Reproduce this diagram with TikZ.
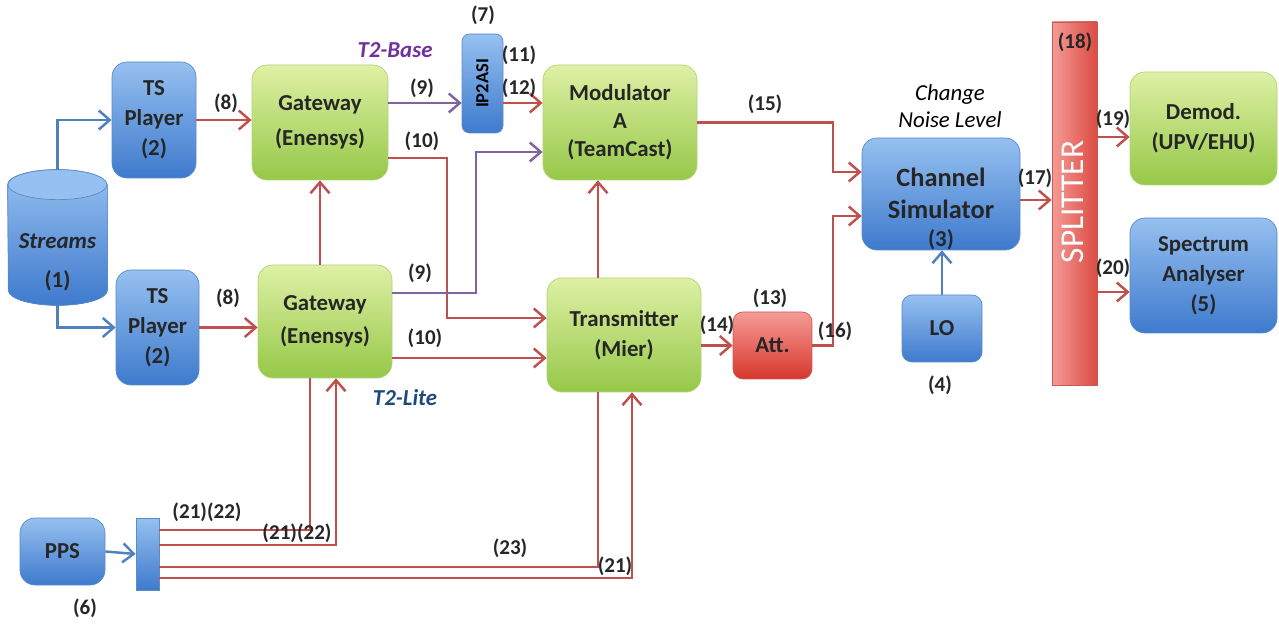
\documentclass[tikz,border=0pt]{standalone}
\usepackage{fontspec}
\setmainfont{Carlito}
\usetikzlibrary{arrows.meta,positioning,calc,shapes.geometric}
\definecolor{bluetop}{RGB}{150,192,240}
\definecolor{bluebot}{RGB}{62,122,205}
\definecolor{blueedge}{RGB}{90,140,200}
\definecolor{greentop}{RGB}{222,240,165}
\definecolor{greenbot}{RGB}{150,200,72}
\definecolor{greenedge}{RGB}{180,210,120}
\definecolor{redtop}{RGB}{245,155,150}
\definecolor{redbot}{RGB}{215,55,45}
\definecolor{rededge}{RGB}{200,90,90}
\definecolor{linered}{RGB}{192,80,77}
\definecolor{linepurple}{RGB}{128,100,162}
\definecolor{lineblue}{RGB}{79,129,189}
\definecolor{basecol}{RGB}{112,48,160}
\definecolor{litecol}{RGB}{31,73,125}

\begin{document}
\begin{tikzpicture}[
    box/.style={rounded corners=0.3cm, align=center, inner sep=1pt, text=black!85,
        font=\bfseries\fontsize{13}{17}\selectfont},
    bluebox/.style={box, draw=blueedge, top color=bluetop, bottom color=bluebot},
    greenbox/.style={box, draw=greenedge, top color=greentop, bottom color=greenbot},
    redbox/.style={box, draw=rededge, top color=redtop, bottom color=redbot},
    wire/.style={line width=1.4pt},
    sigl/.style={wire, draw=linered},
    sig/.style={sigl, -{Straight Barb[length=2.2mm,width=3.8mm]}},
    tsl/.style={wire, draw=linepurple, -{Straight Barb[length=2.2mm,width=3.8mm]}},
    ctl/.style={wire, draw=lineblue, -{Straight Barb[length=2.2mm,width=3.8mm]}},
    lbl/.style={font=\bfseries\fontsize{12}{14}\selectfont, text=black!85, inner sep=0pt},
    note/.style={font=\bfseries\itshape\fontsize{13}{15}\selectfont, inner sep=0pt}
]
\useasboundingbox (0,0) rectangle (25.58,12.64);

% sources
\node[minimum width=1.98cm, minimum height=2.7cm, inner sep=0pt] (streams) at (1.15,7.89) {};
\fill[top color=bluetop, bottom color=bluebot, draw=blueedge]
    ([yshift=-0.3cm]streams.north east) -- ([yshift=0.3cm]streams.south east)
    arc[start angle=0, end angle=-180, x radius=0.99cm, y radius=0.3cm]
    -- ([yshift=-0.3cm]streams.north west)
    arc[start angle=180, end angle=0, x radius=0.99cm, y radius=0.3cm] -- cycle;
\draw[draw=blueedge, fill=bluetop] ([yshift=-0.3cm]streams.north) ellipse (0.99cm and 0.3cm);
\node[box, font=\bfseries\fontsize{13}{22}\selectfont] (streamstxt) at (1.15,7.39) {\textit{Streams}\\(1)};
\node[bluebox, minimum width=1.68cm, minimum height=2.32cm] (ts1) at (3.08,10.24) {TS\\Player\\(2)};
\node[bluebox, minimum width=1.66cm, minimum height=2.3cm] (ts2) at (3.15,6.09) {TS\\Player\\(2)};
\node[bluebox, minimum width=1.7cm, minimum height=1.34cm] (pps) at (1.25,1.61) {PPS};
\node[draw=blueedge, top color=bluetop, bottom color=bluebot, minimum width=0.46cm,
    minimum height=1.44cm, inner sep=0pt] (bar) at (2.95,1.56) {};

% gateways and IP2ASI
\node[greenbox, minimum width=2.72cm, minimum height=2.3cm, font=\bfseries\fontsize{13}{20}\selectfont] (gw1) at (6.4,10.19) {Gateway\\(Enensys)};
\node[greenbox, minimum width=2.68cm, minimum height=2.26cm, font=\bfseries\fontsize{13}{19}\selectfont] (gw2) at (6.5,6.21) {Gateway\\(Enensys)};
\node[bluebox, rounded corners=0.15cm, minimum width=0.82cm, minimum height=1.98cm] (ip) at (9.65,10.97) {};
\node[font=\bfseries\fontsize{10.5}{12}\selectfont, rotate=90] (iptxt) at (ip.center) {IP2ASI};

% modulators
\node[greenbox, minimum width=3.08cm, minimum height=2.3cm, font=\bfseries\fontsize{13}{16}\selectfont] (mod) at (12.4,10.19) {Modulator\\A\\(TeamCast)};
\node[greenbox, minimum width=3.08cm, minimum height=2.28cm] (trans) at (12.48,5.94) {Transmitter\\(Mier)};
\node[redbox, rounded corners=0.2cm, minimum width=1.58cm, minimum height=1.34cm] (att) at (15.45,5.73) {Att.};

% channel and outputs
\node[bluebox, minimum width=3.16cm, minimum height=2.24cm] (chsim) at (18.82,8.76) {};
\node[align=center, text=black!85, font=\bfseries\fontsize{15}{18}\selectfont] (chsimtxt) at ([yshift=-0.3cm]chsim.center)
    {Channel\\Simulator\\[-2pt]{\fontsize{13}{15}\selectfont(3)}};
\node[bluebox, rounded corners=0.2cm, minimum width=1.6cm, minimum height=1.34cm] (lo) at (18.84,6.07) {LO};
\node[draw=rededge, left color=redtop, right color=redbot!90, minimum width=0.9cm,
    minimum height=7.26cm, inner sep=0pt] (split) at (21.49,8.57) {};
\node[rotate=90, text=white, font=\fontsize{19}{21}\selectfont] (splittxt) at (21.45,8.6) {SPLITTER};
\node[greenbox, minimum width=2.94cm, minimum height=2.26cm] (demod) at (24.07,10.07) {Demod.\\(UPV/EHU)};
\node[bluebox, minimum width=2.94cm, minimum height=2.3cm] (spec) at (24.07,7.13) {Spectrum\\Analyser\\(5)};

% connections
\draw[ctl] (streams.north) |- (ts1.west);
\draw[ctl] (streams.south) |- (ts2.west);
\draw[sig] (ts1.east) -- (ts1.east -| gw1.west);
\draw[sig] (ts2.east) -- (ts2.east -| gw2.west);
\draw[sig] (gw1.south |- gw2.north) -- (gw1.south);

\coordinate (b9) at ([yshift=0.39cm]gw1.east);
\draw[tsl] (b9) -- (b9 -| ip.west);
\draw[sig] (b9 -| ip.east) -- (b9 -| mod.west);
\coordinate (k10) at (8.94,6.28);
\draw[sig] ([yshift=-0.71cm]gw1.east) -| (k10) -- (k10 -| trans.west);
\coordinate (k9) at (9.52,9.6);
\draw[tsl] ([yshift=0.57cm]gw2.east) -| (k9) -- (k9 -| mod.west);
\coordinate (g10) at ([yshift=-0.73cm]gw2.east);
\draw[sig] (g10) -- (g10 -| trans.west);
\draw[sig] ([xshift=-0.52cm]trans.north) -- ([xshift=-0.52cm]trans.north |- mod.south);

\coordinate (k15) at (16.66,9.2);
\draw[sig] (mod.east) -| (k15) -- (k15 -| chsim.west);
\draw[sig] (att.west -| trans.east) -- (att.west);
\coordinate (k16) at (16.66,8.32);
\draw[sig] (att.east) -| (k16) -- (k16 -| chsim.west);
\draw[ctl] (lo.north) -- (lo.north |- chsim.south);
\coordinate (c17) at ([yshift=-0.12cm]chsim.east);
\draw[sig] (c17) -- (c17 -| split.west);
\coordinate (c19) at ([yshift=-0.17cm]demod.west);
\draw[sig] (c19 -| split.east) -- (c19);
\coordinate (c20) at ([yshift=-0.33cm]spec.west);
\draw[sig] (c20 -| split.east) -- (c20);

% PPS distribution
\draw[ctl] (pps.east) -- (bar.west);
\coordinate (p1) at (6.2,2.04);
\coordinate (p2) at (6.72,1.74);
\coordinate (p3) at (11.96,1.3);
\coordinate (p4) at (12.64,1.08);
\draw[sigl] (p1 -| bar.east) -- (p1) -- (p1 |- gw2.south);
\draw[sig] (p2 -| bar.east) -- (p2) -- (p2 |- gw2.south);
\draw[sigl] (p3 -| bar.east) -- (p3) -- (p3 |- trans.south);
\draw[sig] (p4 -| bar.east) -- (p4) -- (p4 |- trans.south);

% labels
\node[lbl] (l7) at (9.66,12.34) {(7)};
\node[note, text=basecol] (t2base) at (7.9,11.64) {T2-Base};
\node[lbl] (l11) at (10.38,11.54) {(11)};
\node[lbl] (l12) at (10.38,10.88) {(12)};
\node[lbl] (l8a) at (4.52,10.58) {(8)};
\node[lbl] (l9a) at (8.44,10.88) {(9)};
\node[lbl] (l10a) at (8.44,9.82) {(10)};
\node[lbl] (l15) at (15.3,10.56) {(15)};
\node[note, font=\itshape\fontsize{13}{15.5}\selectfont, align=center, text=black] (noise) at (19.0,10.52) {Change\\Noise Level};
\node[lbl] (l17) at (20.7,9.08) {(17)};
\node[lbl] (l18) at (21.5,11.8) {(18)};
\node[lbl] (l19) at (22.26,10.26) {(19)};
\node[lbl] (l20) at (22.26,7.28) {(20)};
\node[lbl] (l9b) at (8.4,7.18) {(9)};
\node[lbl] (l8b) at (4.56,6.68) {(8)};
\node[lbl] (l10b) at (8.5,5.88) {(10)};
\node[lbl] (l13) at (15.4,6.68) {(13)};
\node[lbl] (l14) at (14.34,6.14) {(14)};
\node[lbl] (l16) at (16.7,6.02) {(16)};
\node[lbl] (l4) at (18.8,4.94) {(4)};
\node[note, text=litecol] (t2lite) at (8.1,4.68) {T2-Lite};
\node[lbl] (l2122a) at (4.14,2.4) {(21)(22)};
\node[lbl] (l2122b) at (5.94,1.98) {(21)(22)};
\node[lbl] (l23) at (10.2,1.68) {(23)};
\node[lbl] (l21) at (12.3,1.32) {(21)};
\node[lbl] (l6) at (1.7,0.48) {(6)};

\end{tikzpicture}
\end{document}
